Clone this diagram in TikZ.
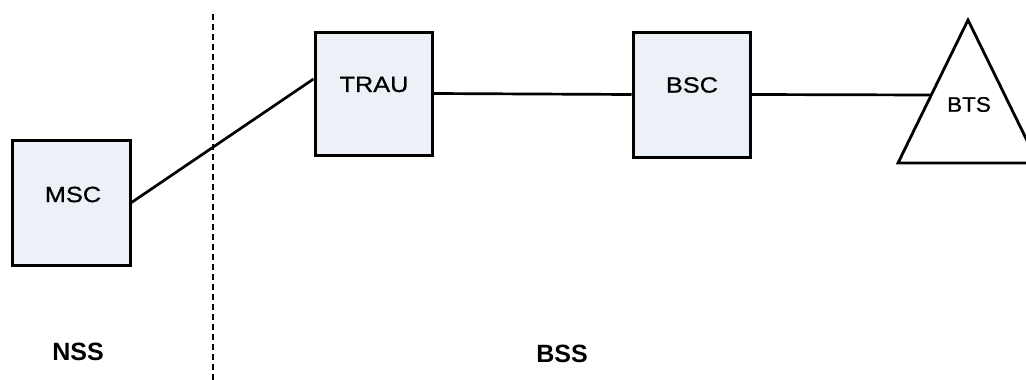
\documentclass[tikz,border=0pt]{standalone}
\usepackage{fontspec}
\setmainfont{Liberation Sans}
\newfontfamily\lblfont[FakeStretch=1.15,FakeBold=0.8]{Liberation Sans}
\newfontfamily\btsfont[FakeStretch=1.07,FakeBold=0.8]{Liberation Sans}
\usetikzlibrary{calc}
\definecolor{boxfill}{RGB}{236,241,247}
\tikzset{
  unitbox/.style={draw=black, line width=3pt, fill=boxfill, inner sep=0pt},
  lbl/.style={font=\lblfont\fontsize{22}{24}\selectfont, inner sep=0pt},
  sidelbl/.style={font=\fontsize{25}{28}\selectfont\bfseries, inner sep=0pt},
  link/.style={draw=black, line width=2.7pt},
  divider/.style={draw=black, line width=2.8pt, dash pattern=on 6pt off 4pt}
}
\begin{document}
\begin{tikzpicture}[x=1pt,y=-1pt]
\useasboundingbox (0,0) rectangle (1026,380);
% boxes
\node[unitbox, minimum width=118pt, minimum height=125pt] (msc) at (71,202.5) {};
\node[unitbox, minimum width=117pt, minimum height=123pt] (trau) at (373.5,93.5) {};
\node[unitbox, minimum width=117pt, minimum height=125pt] (bsc) at (691.5,94.5) {};
% triangle
\coordinate (apex) at (968,20);
\coordinate (bl) at (898,163);
\coordinate (br) at (1038,163);
\draw[line width=2.8pt, line join=miter, fill=white] (bl) -- (apex) -- (br) -- cycle;
\coordinate (btsin) at ($(bl)!{68/143}!(apex)$);
% texts
\node[lbl] (msct) at (73,194.5) {MSC};
\node[lbl] (traut) at (374,84.5) {TRAU};
\node[lbl] (bsct) at (692,85) {BSC};
\node[inner sep=0pt, font=\btsfont\fontsize{21}{24}\selectfont] (btst) at (969,104.5) {BTS};
\node[sidelbl] (nss) at (78,352) {NSS};
\node[sidelbl] (bss) at (562,353.5) {BSS};
% divider
\coordinate (dtop) at (213,14);
\coordinate (dbot) at (213,380);
\draw[divider] (dtop) -- (dbot);
% links
\draw[link] (msc.east) -- ([yshift=14.5pt]trau.west);
\draw[link] (trau.east) -- (bsc.west);
\draw[link] (bsc.east) -- (btsin);
\end{tikzpicture}
\end{document}
